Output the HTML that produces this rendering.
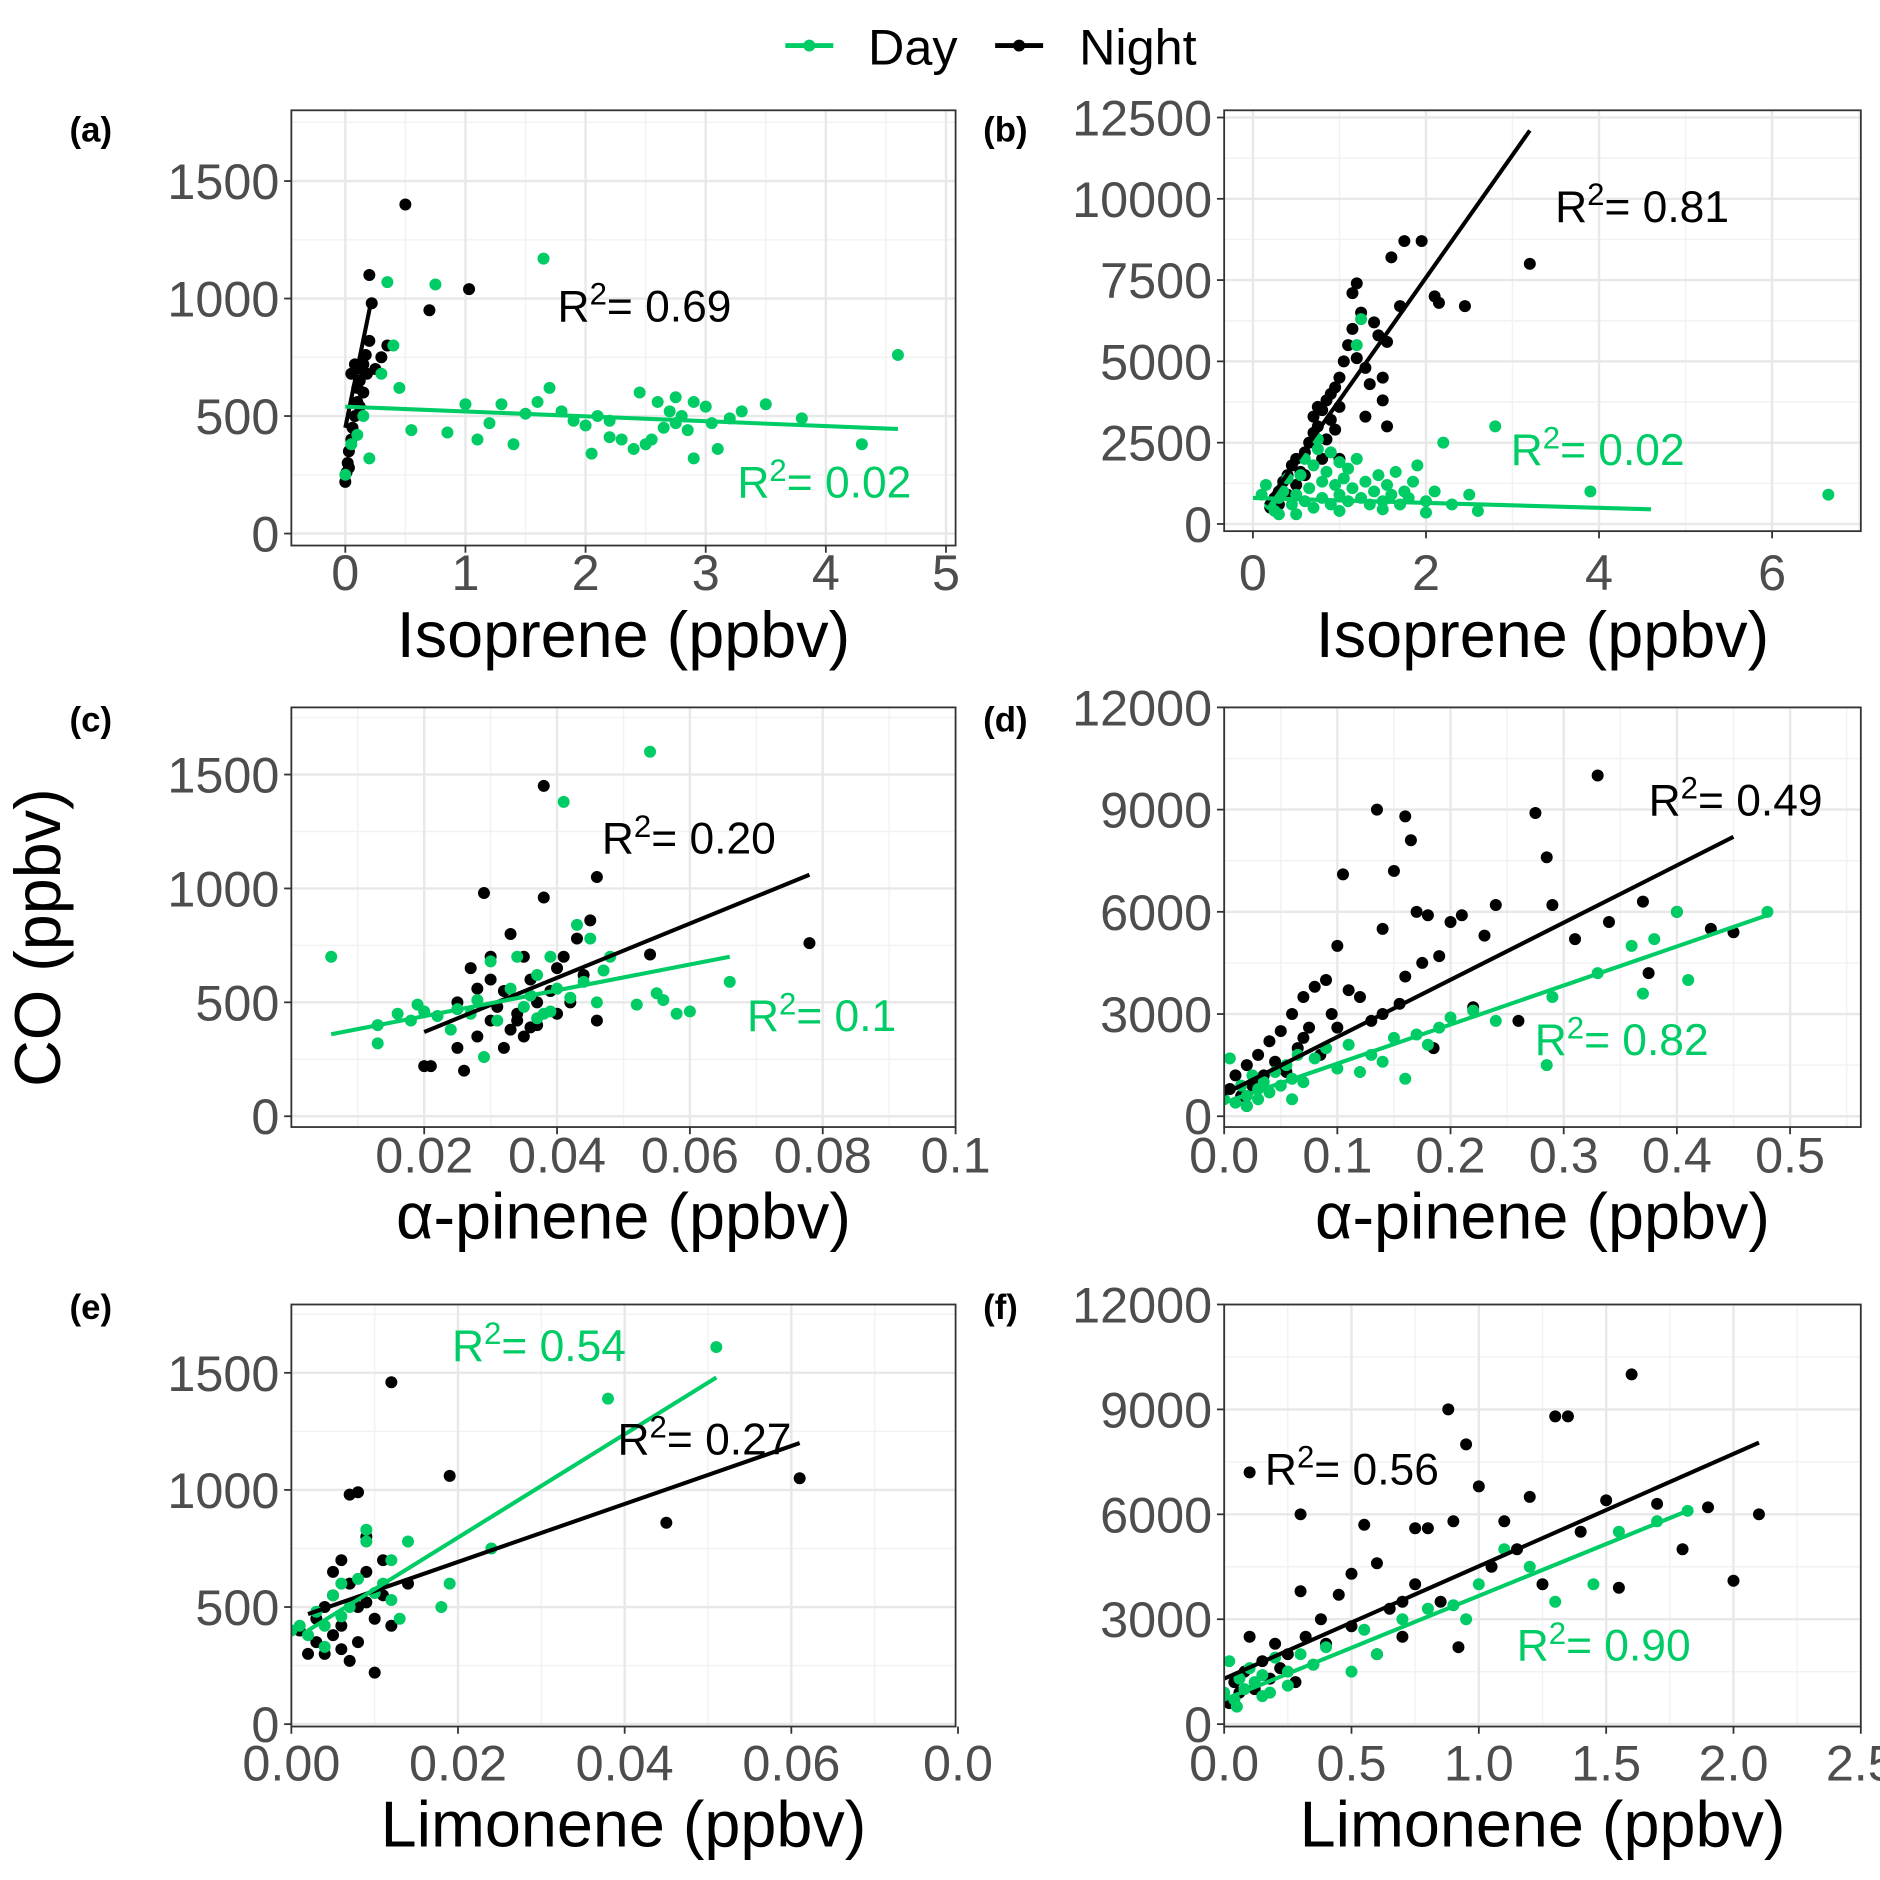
<!DOCTYPE html>
<html><head><meta charset="utf-8">
<style>
html,body{margin:0;padding:0;background:#fff;}
svg{display:block;font-family:"Liberation Sans",Arial,sans-serif;}
</style></head>
<body>
<svg id="chart" width="1880" height="1880" viewBox="0 0 1568 1568" xmlns="http://www.w3.org/2000/svg">
  <rect x="0" y="0" width="1568" height="1568" fill="#fff"/>
  <g>
    <g>
      <line x1="655" y1="38" x2="695" y2="38" stroke="#00cc66" stroke-width="4"/>
      <circle cx="675" cy="38" r="5" fill="#00cc66"/>
      <text x="724" y="54" font-size="42" fill="#000">Day</text>
    </g>
    <g>
      <line x1="830" y1="38" x2="870" y2="38" stroke="#000" stroke-width="4"/>
      <circle cx="850" cy="38" r="5" fill="#000"/>
      <text x="900" y="54" font-size="42" fill="#000">Night</text>
    </g>
  </g>
  <text transform="translate(50,782) rotate(-90)" text-anchor="middle" font-size="54" fill="#000">CO (ppbv)</text>
  <g id="panels"></g>
</svg>
<script>
// ---- data (x, y pairs in data units) ----
const aNight = [[0.0,220],[0.01,260],[0.02,300],[0.03,350],[0.05,400],[0.06,450],[0.08,500],[0.1,560],[0.1,620],[0.12,650],[0.13,700],[0.15,720],[0.17,760],[0.2,820],[0.2,1100],[0.22,980],[0.25,700],[0.3,750],[0.35,800],[0.5,1400],[0.7,950],[1.03,1040],[0.05,680],[0.08,720],[0.15,600],[0.03,280],[0.12,540],[0.18,680]];
const aDay = [[0.0,250],[0.05,380],[0.1,420],[0.15,500],[0.2,320],[0.3,680],[0.35,1070],[0.4,800],[0.45,620],[0.55,440],[0.75,1060],[0.85,430],[1.1,400],[1.3,550],[1.4,380],[1.5,510],[1.6,560],[1.65,1170],[1.7,620],[1.8,520],[1.9,480],[2.0,460],[2.05,340],[2.1,500],[2.2,480],[2.3,400],[2.4,360],[2.45,600],[2.5,380],[2.6,560],[2.65,450],[2.7,520],[2.75,580],[2.8,500],[2.85,440],[2.9,320],[3.0,540],[3.1,360],[3.2,490],[3.3,520],[3.5,550],[3.8,490],[4.3,380],[4.6,760],[1.0,550],[1.2,470],[2.2,410],[2.9,560],[3.05,470],[2.55,400],[2.75,470]];
const aNightFit = [[0.0,450],[0.22,1000]];
const aDayFit = [[0.0,540],[4.6,445]];

const bNight = [[0.2,500],[0.25,800],[0.3,1000],[0.35,1300],[0.4,1500],[0.45,1800],[0.5,2000],[0.55,1600],[0.6,2200],[0.65,2500],[0.7,2800],[0.7,3300],[0.75,3000],[0.8,3500],[0.85,3800],[0.9,4000],[0.9,3200],[0.95,4200],[1.0,3600],[1.0,4500],[1.05,5000],[1.1,5500],[1.15,7100],[1.15,6000],[1.2,7400],[1.2,5100],[1.25,6500],[1.3,4800],[1.4,6200],[1.45,5800],[1.5,4500],[1.55,5600],[1.55,3000],[1.6,8200],[1.75,8700],[1.95,8700],[2.1,7000],[1.7,6700],[2.45,6700],[2.15,6800],[3.2,8000],[0.5,1200],[0.6,1500],[0.8,2000],[0.85,2600],[1.0,2000],[1.3,3300],[1.5,3800],[0.3,600],[0.4,900],[1.35,4300],[0.75,3600],[0.95,2900]];
const bDay = [[0.1,900],[0.15,1200],[0.2,600],[0.25,400],[0.3,800],[0.35,1000],[0.4,1400],[0.45,600],[0.5,900],[0.55,1500],[0.6,700],[0.6,2000],[0.65,1100],[0.7,1800],[0.7,500],[0.75,2300],[0.8,1300],[0.8,800],[0.85,1600],[0.9,2200],[0.9,600],[0.95,1200],[1.0,1900],[1.0,900],[1.05,1400],[1.1,700],[1.1,1700],[1.15,1100],[1.2,2000],[1.2,5500],[1.25,6300],[1.25,800],[1.3,1300],[1.35,600],[1.4,1000],[1.45,1500],[1.5,700],[1.55,1200],[1.6,900],[1.65,1600],[1.7,600],[1.75,1000],[1.8,800],[1.85,1300],[1.9,1800],[2.0,700],[2.1,1000],[2.2,2500],[2.3,600],[2.5,900],[2.6,400],[2.8,3000],[3.9,1000],[6.65,900],[0.5,300],[1.0,400],[1.5,450],[2.0,350],[0.3,300],[0.75,2600]];
const bNightFit = [[0.15,600],[3.2,12100]];
const bDayFit = [[0.0,800],[4.6,450]];

const cNight = [[0.02,220],[0.021,220],[0.025,300],[0.026,200],[0.027,650],[0.028,350],[0.029,980],[0.03,700],[0.03,420],[0.031,480],[0.032,550],[0.033,800],[0.033,380],[0.034,450],[0.035,700],[0.035,350],[0.036,600],[0.037,500],[0.037,400],[0.038,1450],[0.038,960],[0.039,550],[0.04,650],[0.04,450],[0.041,700],[0.042,500],[0.043,780],[0.044,620],[0.045,860],[0.046,1050],[0.046,420],[0.054,710],[0.078,760],[0.032,300],[0.034,420],[0.03,600],[0.028,560],[0.036,390],[0.025,500]];
const cDay = [[0.006,700],[0.013,400],[0.013,320],[0.016,450],[0.018,420],[0.019,490],[0.02,460],[0.022,440],[0.024,380],[0.025,470],[0.027,450],[0.028,510],[0.029,260],[0.03,680],[0.031,420],[0.033,560],[0.034,700],[0.035,480],[0.036,530],[0.037,620],[0.038,450],[0.039,700],[0.04,560],[0.041,1380],[0.042,520],[0.043,840],[0.044,590],[0.045,780],[0.046,500],[0.047,640],[0.054,1600],[0.055,540],[0.056,510],[0.058,450],[0.06,460],[0.066,590],[0.037,430],[0.039,460],[0.048,700],[0.052,490]];
const cNightFit = [[0.02,370],[0.078,1060]];
const cDayFit = [[0.006,360],[0.066,700]];

const dNight = [[0.005,800],[0.01,1200],[0.015,600],[0.02,1500],[0.025,900],[0.03,1800],[0.035,1200],[0.04,2200],[0.045,1600],[0.05,2500],[0.055,1300],[0.06,3000],[0.065,2000],[0.07,3500],[0.075,2600],[0.08,3800],[0.085,1800],[0.09,4000],[0.095,3000],[0.1,2600],[0.105,7100],[0.11,3700],[0.12,3500],[0.13,2800],[0.135,9000],[0.14,5500],[0.15,7200],[0.155,3300],[0.16,8800],[0.165,8100],[0.17,6000],[0.175,4500],[0.18,5900],[0.185,2000],[0.19,4700],[0.2,5700],[0.21,5900],[0.22,3200],[0.23,5300],[0.24,6200],[0.26,2800],[0.275,8900],[0.285,7600],[0.29,6200],[0.31,5200],[0.33,10000],[0.34,5700],[0.37,6300],[0.375,4200],[0.4,6000],[0.43,5500],[0.45,5400],[0.02,300],[0.03,1000],[0.05,1400],[0.07,2300],[0.14,3000],[0.16,4100],[0.1,5000]];
const dDay = [[0.0,500],[0.005,1700],[0.01,400],[0.015,900],[0.02,600],[0.025,1200],[0.03,500],[0.035,1000],[0.04,700],[0.045,1300],[0.05,900],[0.055,1500],[0.06,1100],[0.065,1800],[0.07,1000],[0.08,1700],[0.09,2000],[0.1,1400],[0.11,2100],[0.12,1300],[0.13,1800],[0.14,1600],[0.15,2300],[0.16,1100],[0.17,2400],[0.18,2100],[0.19,2600],[0.2,2900],[0.22,3100],[0.24,2800],[0.285,1500],[0.29,3500],[0.33,4200],[0.36,5000],[0.37,3600],[0.38,5200],[0.4,6000],[0.41,4000],[0.48,6000],[0.02,300],[0.03,800],[0.06,500]];
const dNightFit = [[0.0,650],[0.45,8200]];
const dDayFit = [[0.0,400],[0.48,5900]];

const eNight = [[0.001,400],[0.002,300],[0.003,450],[0.003,350],[0.004,500],[0.004,300],[0.005,650],[0.005,380],[0.006,700],[0.006,420],[0.007,600],[0.007,270],[0.007,980],[0.008,500],[0.008,350],[0.008,990],[0.009,650],[0.009,800],[0.01,450],[0.01,220],[0.011,700],[0.011,550],[0.012,1460],[0.012,420],[0.014,600],[0.019,1060],[0.045,860],[0.061,1050],[0.005,550],[0.009,520],[0.006,320]];
const eDay = [[0.0,400],[0.001,420],[0.002,380],[0.003,480],[0.004,420],[0.005,550],[0.006,460],[0.007,500],[0.008,620],[0.009,780],[0.009,830],[0.01,560],[0.011,600],[0.012,700],[0.013,450],[0.014,780],[0.018,500],[0.019,600],[0.024,750],[0.038,1390],[0.051,1610],[0.004,330],[0.006,600],[0.012,530]];
const eNightFit = [[0.002,470],[0.061,1200]];
const eDayFit = [[0.002,400],[0.051,1480]];

const fNight = [[0.02,600],[0.04,1200],[0.06,900],[0.08,1500],[0.1,7200],[0.12,1000],[0.15,1800],[0.18,1300],[0.2,2300],[0.22,1600],[0.25,2000],[0.28,1200],[0.3,6000],[0.32,2500],[0.35,1700],[0.38,3000],[0.4,2300],[0.45,3700],[0.5,2800],[0.55,5700],[0.6,2000],[0.65,3300],[0.7,2500],[0.75,4000],[0.75,5600],[0.8,5600],[0.85,3500],[0.88,9000],[0.9,5800],[0.92,2200],[0.95,8000],[1.0,6800],[1.05,4500],[1.1,5800],[1.15,5000],[1.2,6500],[1.25,4000],[1.3,8800],[1.35,8800],[1.4,5500],[1.5,6400],[1.55,3900],[1.6,10000],[1.7,6300],[1.8,5000],[1.9,6200],[2.0,4100],[2.1,6000],[0.1,2500],[0.3,3800],[0.5,4300],[0.7,3500],[0.6,4600]];
const fDay = [[0.0,900],[0.02,1800],[0.04,700],[0.06,1300],[0.08,1000],[0.1,1600],[0.12,1200],[0.15,1400],[0.18,900],[0.2,1900],[0.25,1500],[0.3,2000],[0.35,1700],[0.4,2200],[0.5,1500],[0.55,2700],[0.6,2000],[0.7,3000],[0.8,3300],[0.9,3400],[0.95,3000],[1.0,4000],[1.1,5000],[1.2,4500],[1.3,3500],[1.45,4000],[1.55,5500],[1.7,5800],[1.82,6100],[0.05,500],[0.15,800],[0.25,1100]];
const fNightFit = [[0.0,1300],[2.1,8050]];
const fDayFit = [[0.0,700],[1.82,6100]];

const aXTicks = [0,1,2,3,4,5];  const aXLabels = ["0","1","2","3","4","5"];
const aYTicks = [0,500,1000,1500]; const aYLabels = ["0","500","1000","1500"];
const bXTicks = [0,2,4,6];  const bXLabels = ["0","2","4","6"];
const bYTicks = [0,2500,5000,7500,10000,12500]; const bYLabels = ["0","2500","5000","7500","10000","12500"];
const cXTicks = [0.02,0.04,0.06,0.08,0.1]; const cXLabels = ["0.02","0.04","0.06","0.08","0.1"];
const dXTicks = [0,0.1,0.2,0.3,0.4,0.5]; const dXLabels = ["0.0","0.1","0.2","0.3","0.4","0.5"];
const dYTicks = [0,3000,6000,9000,12000]; const dYLabels = ["0","3000","6000","9000","12000"];
const eXTicks = [0,0.02,0.04,0.06,0.08]; const eXLabels = ["0.00","0.02","0.04","0.06","0.0"];
const fXTicks = [0,0.5,1,1.5,2,2.5]; const fXLabels = ["0.0","0.5","1.0","1.5","2.0","2.5"];

const GREEN = "#00cc66";
const NS = "http://www.w3.org/2000/svg";
function mk(tag, attrs, parent){const e=document.createElementNS(NS,tag);for(const k in attrs)e.setAttribute(k,attrs[k]);parent.appendChild(e);return e;}

const panels = [
 {id:"a", L:243,R:797,T:92,B:455, x0:0,x0px:288,x1:5,x1px:789, y0:0,y0px:445,y1:1500,y1px:151, xt:aXTicks,xl:aXLabels,yt:aYTicks,yl:aYLabels, night:aNight,day:aDay,nf:aNightFit,df:aDayFit, title:"Isoprene (ppbv)", lab:[58,118], rN:["0.69",465,268], rD:["0.02",615,415], tly:492, tty:548},
 {id:"b", L:1021,R:1552,T:92,B:443, x0:0,x0px:1045,x1:6,x1px:1478, y0:0,y0px:437,y1:12500,y1px:98, xt:bXTicks,xl:bXLabels,yt:bYTicks,yl:bYLabels, night:bNight,day:bDay,nf:bNightFit,df:bDayFit, title:"Isoprene (ppbv)", lab:[820,118], rN:["0.81",1297,185], rD:["0.02",1260,388], tly:492, tty:548},
 {id:"c", L:243,R:797,T:590,B:940, x0:0,x0px:243,x1:0.1,x1px:797, y0:0,y0px:931,y1:1500,y1px:646, xt:cXTicks,xl:cXLabels,yt:aYTicks,yl:aYLabels, night:cNight,day:cDay,nf:cNightFit,df:cDayFit, title:"α-pinene (ppbv)", lab:[58,610], rN:["0.20",502,712], rD:["0.1",623,860], tly:978, tty:1033},
 {id:"d", L:1021,R:1552,T:590,B:940, x0:0,x0px:1021,x1:0.5,x1px:1493, y0:0,y0px:931,y1:12000,y1px:590, xt:dXTicks,xl:dXLabels,yt:dYTicks,yl:dYLabels, night:dNight,day:dDay,nf:dNightFit,df:dDayFit, title:"α-pinene (ppbv)", lab:[820,610], rN:["0.49",1375,680], rD:["0.82",1280,880], tly:978, tty:1033},
 {id:"e", L:243,R:797,T:1088,B:1440, x0:0,x0px:243,x1:0.08,x1px:799, y0:0,y0px:1438,y1:1500,y1px:1145, xt:eXTicks,xl:eXLabels,yt:aYTicks,yl:aYLabels, night:eNight,day:eDay,nf:eNightFit,df:eDayFit, title:"Limonene (ppbv)", lab:[58,1100], rN:["0.27",515,1213], rD:["0.54",377,1135], tly:1485, tty:1540},
 {id:"f", L:1021,R:1552,T:1088,B:1440, x0:0,x0px:1021,x1:2.5,x1px:1552, y0:0,y0px:1438,y1:12000,y1px:1088, xt:fXTicks,xl:fXLabels,yt:dYTicks,yl:dYLabels, night:fNight,day:fDay,nf:fNightFit,df:fDayFit, title:"Limonene (ppbv)", lab:[820,1100], rN:["0.56",1055,1238], rD:["0.90",1265,1385], tly:1485, tty:1540}
];

const root = document.getElementById("panels");
panels.forEach(p=>{
  const sx = v => p.x0px + (v-p.x0)*(p.x1px-p.x0px)/(p.x1-p.x0);
  const sy = v => p.y0px + (v-p.y0)*(p.y1px-p.y0px)/(p.y1-p.y0);
  const g = mk("g",{},root);
  
  
  const clipId = "clip-"+p.id;
  const cp = mk("clipPath",{id:clipId},g);
  mk("rect",{x:p.L,y:p.T,width:p.R-p.L,height:p.B-p.T},cp);
  const grid = mk("g",{"clip-path":"url(#"+clipId+")"},g);
  
  
  const xs = p.xt, ys = p.yt, dx = xs[1]-xs[0], dy = ys[1]-ys[0];
  for(let i=-1;i<=xs.length;i++){const v=xs[0]+(i+0.5)*dx; mk("line",{x1:sx(v),x2:sx(v),y1:p.T,y2:p.B,stroke:"#f2f2f2","stroke-width":1.2},grid);}
  for(let i=-1;i<=ys.length;i++){const v=ys[0]+(i+0.5)*dy; mk("line",{x1:p.L,x2:p.R,y1:sy(v),y2:sy(v),stroke:"#f2f2f2","stroke-width":1.2},grid);}
  xs.forEach(v=>mk("line",{x1:sx(v),x2:sx(v),y1:p.T,y2:p.B,stroke:"#e8e8e8","stroke-width":2},grid));
  ys.forEach(v=>mk("line",{x1:p.L,x2:p.R,y1:sy(v),y2:sy(v),stroke:"#e8e8e8","stroke-width":2},grid));
  const pts = mk("g",{"clip-path":"url(#"+clipId+")"},g);
  p.night.forEach(d=>{const c=mk("circle",{cx:sx(d[0]),cy:sy(d[1]),r:5,fill:"#000"},pts);
    
    });
  p.day.forEach(d=>{const c=mk("circle",{cx:sx(d[0]),cy:sy(d[1]),r:5,fill:GREEN},pts);
    
    });
  const ln = mk("line",{x1:sx(p.nf[0][0]),y1:sy(p.nf[0][1]),x2:sx(p.nf[1][0]),y2:sy(p.nf[1][1]),stroke:"#000","stroke-width":3.4},pts);
  
  
  const ld = mk("line",{x1:sx(p.df[0][0]),y1:sy(p.df[0][1]),x2:sx(p.df[1][0]),y2:sy(p.df[1][1]),stroke:GREEN,"stroke-width":3.4},pts);
  
  
  const br = mk("rect",{x:p.L,y:p.T,width:p.R-p.L,height:p.B-p.T,fill:"none",stroke:"#333","stroke-width":1.5},g);
  
  
  xs.forEach((v,i)=>{
    mk("line",{x1:sx(v),x2:sx(v),y1:p.B,y2:p.B+6,stroke:"#333","stroke-width":1.5},g);
    const t=mk("text",{x:sx(v),y:p.tly,"text-anchor":"middle","font-size":42,fill:"#4d4d4d"},g);
    t.textContent=p.xl[i];
    
    
  });
  ys.forEach((v,i)=>{
    mk("line",{x1:p.L-6,x2:p.L,y1:sy(v),y2:sy(v),stroke:"#333","stroke-width":1.5},g);
    const t=mk("text",{x:p.L-10,y:sy(v)+15,"text-anchor":"end","font-size":42,fill:"#4d4d4d"},g);
    t.textContent=p.yl[i];
    
    
  });
  const xt = mk("text",{x:(p.L+p.R)/2,y:p.tty,"text-anchor":"middle","font-size":54,fill:"#000"},g);
  xt.textContent=p.title;
  
  
  const lb = mk("text",{x:p.lab[0],y:p.lab[1],"font-size":29,"font-weight":"bold",fill:"#000"},g);
  lb.textContent="("+p.id+")";
  
  
  [[p.rN,"#000","night-r2-label"],[p.rD,GREEN,"day-r2-label"]].forEach(([r,col,nm])=>{
    const t=mk("text",{x:r[1],y:r[2],"font-size":37,fill:col},g);
    
    
    const a=mk("tspan",{},t); a.textContent="R";
    const s=mk("tspan",{dy:-14,"font-size":26},t); s.textContent="2";
    const b=mk("tspan",{dy:14},t); b.textContent="= "+r[0];
  });
});
</script>
</body></html>
